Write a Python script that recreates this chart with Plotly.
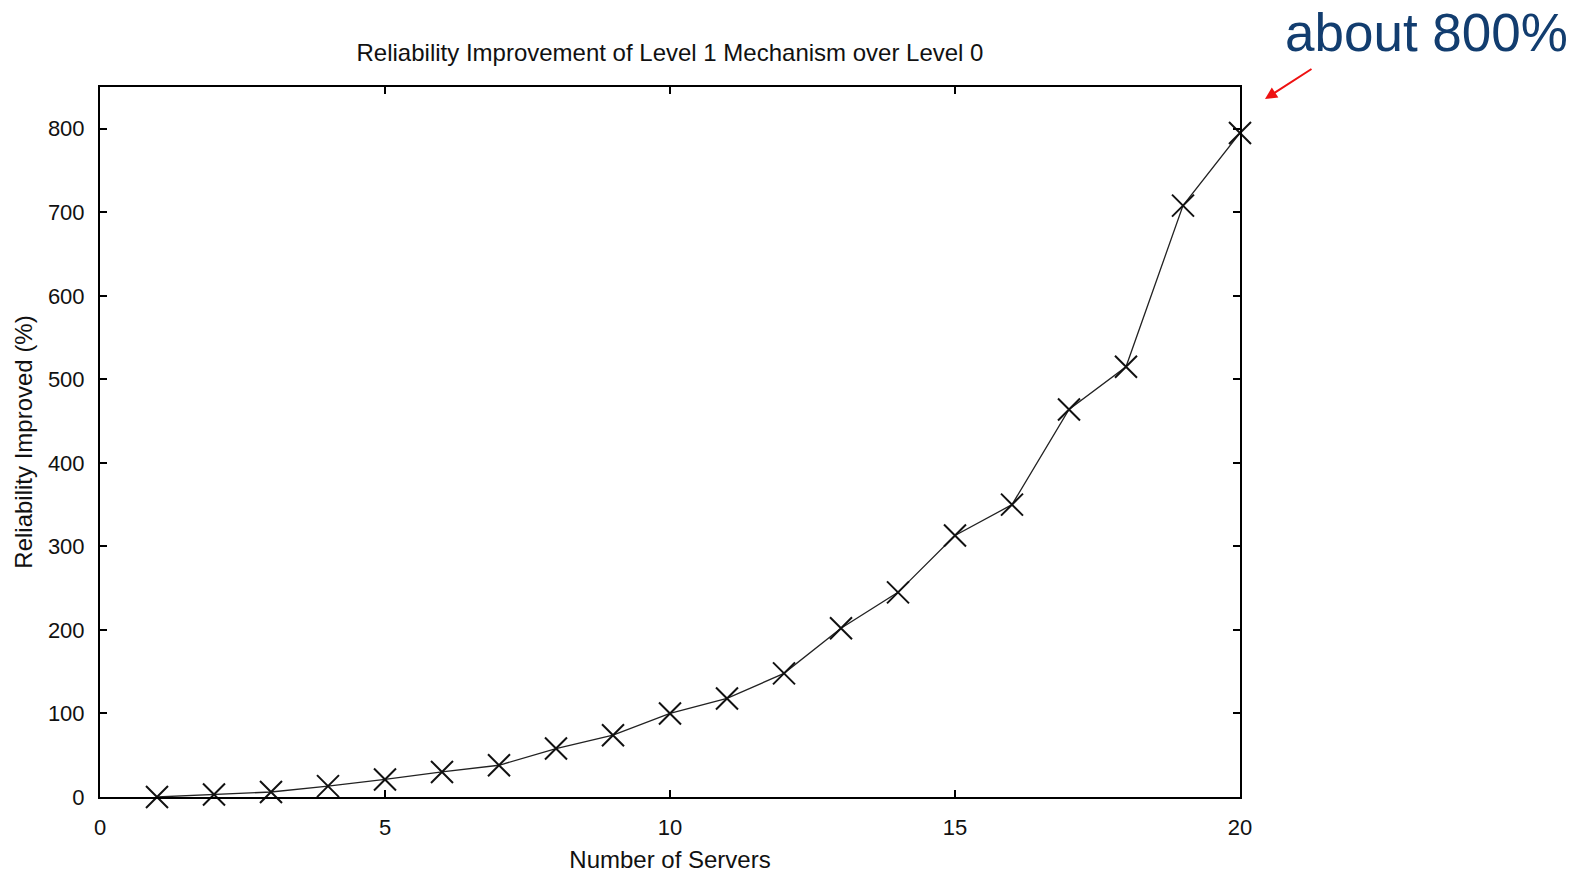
import plotly.graph_objects as go

servers = list(range(1, 21))
improvement = [0, 3, 6, 13, 21, 30, 38, 58, 74, 100, 118, 148, 202, 245, 313, 350, 464, 515, 708, 795]

title_text = "Reliability Improvement of Level 1 Mechanism over Level 0"
x_title = "Number of Servers"
y_title = "Reliability Improved (%)"
note_text = "about 800%"

font_main = "Liberation Sans, Arial, sans-serif"

fig = go.Figure()
fig.add_trace(go.Scatter(
    x=servers, y=improvement, mode="lines+markers",
    line=dict(color="#222222", width=1.3),
    marker=dict(symbol="x-thin-open", size=22, line=dict(color="#111111", width=2), color="#111111"),
    showlegend=False, cliponaxis=False,
))

axis_common = dict(
    showgrid=False, zeroline=False, showline=True, linecolor="black", linewidth=2,
    mirror="ticks", ticks="inside", ticklen=7, tickwidth=1.5, tickcolor="black",
    tickfont=dict(family=font_main, size=22, color="#111111"), automargin=False,
)

fig.update_layout(
    width=1585, height=874,
    margin=dict(l=100, r=345, t=87, b=77),
    paper_bgcolor="white", plot_bgcolor="white",
    title=dict(text=title_text, x=(100 + 1240) / 2 / 1585, xanchor="center", y=1 - 53 / 874, yanchor="middle",
               font=dict(family=font_main, size=24, color="#111111")),
    xaxis=dict(range=[0, 20], tickvals=[0, 5, 10, 15, 20], ticklabelstandoff=10,
               title=dict(text=x_title, standoff=12, font=dict(family=font_main, size=24, color="#111111")),
               **axis_common),
    yaxis=dict(range=[0, 850], tickvals=[0, 100, 200, 300, 400, 500, 600, 700, 800], ticklabelstandoff=9,
               title=dict(text=y_title, standoff=8, font=dict(family=font_main, size=24, color="#111111")),
               **axis_common),
)

fig.add_annotation(
    xref="paper", yref="paper", x=(1283 - 100) / 1140, y=(797 - 32) / 710,
    text=note_text, showarrow=False, xanchor="left", yanchor="middle",
    font=dict(family=font_main, size=53, color="#123d6f"),
)
fig.add_annotation(
    xref="x domain", yref="y domain",
    x=(1265 - 100) / 1140, y=(797 - 99) / 710,
    ax=(1313 - 100) / 1140, ay=(797 - 68) / 710, axref="x domain", ayref="y domain",
    showarrow=True, arrowhead=2, arrowsize=1.2, arrowwidth=2, arrowcolor="#ee1111", text="",
)

fig.write_html("out.html")
